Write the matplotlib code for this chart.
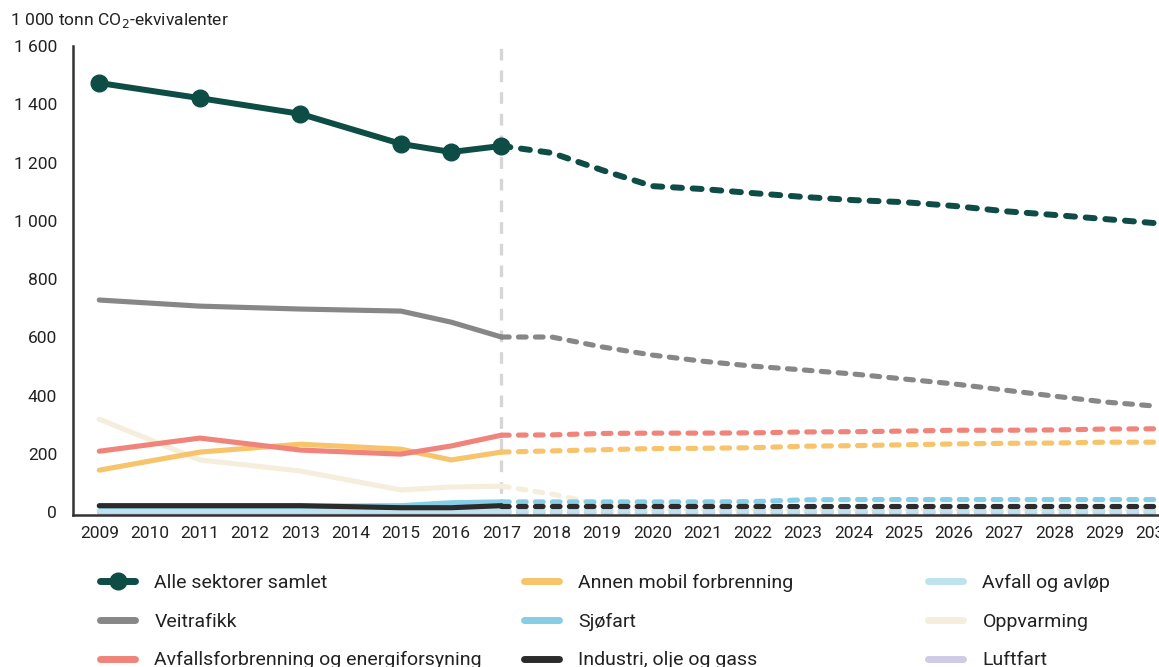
import matplotlib
matplotlib.use("Agg")
import matplotlib.pyplot as plt
from matplotlib.lines import Line2D
from matplotlib.ticker import FuncFormatter

plt.rcParams['font.family'] = ['Roboto', 'DejaVu Sans']

hist_years = [2009, 2011, 2013, 2015, 2016, 2017]
proj_years = list(range(2017, 2031))
tick_years = list(range(2009, 2031))

# historical values (1 000 tonn CO2-ekv.)
alle_hist = [1473, 1421, 1367, 1264, 1236, 1257]
veitrafikk_hist = [728, 707, 697, 690, 652, 601]
avfallsforbr_hist = [209, 254, 213, 199, 227, 264]
annen_mobil_hist = [144, 206, 233, 216, 179, 206]
oppvarming_hist = [319, 179, 141, 76, 86, 89]
sjofart_hist = [20, 20, 20, 22, 32, 35]
industri_hist = [22, 22, 22, 15, 15, 22]
avfall_avlop_hist = [6, 6, 6, 6, 6, 6]
luftfart_hist = [1, 1, 1, 1, 1, 1]

# projections 2017-2030
alle_proj = [1257, 1233, 1174, 1119, 1109, 1095, 1082, 1071, 1064, 1051, 1033, 1020, 1006, 992]
veitrafikk_proj = [601, 601, 567, 539, 518, 501, 488, 474, 457, 440, 419, 398, 378, 364]
avfallsforbr_proj = [264, 265, 270, 271, 271, 272, 275, 276, 278, 281, 281, 282, 285, 286]
annen_mobil_proj = [206, 210, 214, 218, 219, 221, 226, 228, 231, 234, 236, 237, 240, 240]
oppvarming_proj = [89, 62, 25, 12, 10, 10, 10, 10, 10, 10, 10, 10, 10, 10]
sjofart_proj = [35, 35, 35, 35, 35, 36, 42, 43, 43, 43, 43, 43, 43, 43]
industri_proj = [22, 22, 22, 22, 22, 22, 22, 22, 22, 22, 22, 22, 22, 22]
avfall_avlop_proj = [6, 6, 6, 6, 6, 6, 6, 6, 6, 6, 6, 6, 6, 6]
luftfart_proj = [1, 1, 1, 1, 1, 1, 1, 1, 1, 1, 1, 1, 1, 1]

labels = ["Alle sektorer samlet", "Veitrafikk", "Avfallsforbrenning og energiforsyning",
          "Annen mobil forbrenning", "Sjøfart", "Industri, olje og gass",
          "Avfall og avløp", "Oppvarming", "Luftfart"]
colors = ["#0e4d45", "#878787", "#f0847a", "#f7c46b", "#86cde6", "#2b2b2b",
          "#bfe2ef", "#f5eedc", "#cfcae5"]

series = [
    (alle_hist, alle_proj),
    (veitrafikk_hist, veitrafikk_proj),
    (avfallsforbr_hist, avfallsforbr_proj),
    (annen_mobil_hist, annen_mobil_proj),
    (sjofart_hist, sjofart_proj),
    (industri_hist, industri_proj),
    (avfall_avlop_hist, avfall_avlop_proj),
    (oppvarming_hist, oppvarming_proj),
    (luftfart_hist, luftfart_proj),
]
zorders = [10, 8, 7, 6, 4, 5, 3, 2.5, 2]
widths = [4.3, 3.7, 3.7, 3.7, 3.7, 3.7, 3.7, 3.7, 3.7]

fig = plt.figure(figsize=(11.59, 6.67), dpi=100)
ax = fig.add_axes([73 / 1159, 1 - 515 / 667, 1 - 73 / 1159 + 0.01, 469 / 667])

ax.axvline(2017, color="#d6d6d6", lw=2.4, dashes=(3.5, 3), zorder=1)

for (h, p), c, z, lw in zip(series, colors, zorders, widths):
    ax.plot(hist_years, h, color=c, lw=lw, solid_capstyle='round', solid_joinstyle='round', zorder=z)
    ax.plot(proj_years, p, color=c, lw=lw, dashes=(1.5, 1.8), dash_capstyle='round',
            dash_joinstyle='round', zorder=z)
ax.plot(hist_years, alle_hist, 'o', color=colors[0], ms=12, zorder=11)

ax.set_xlim(2008.477, 2030.31)
ax.set_ylim(-10, 1600)
ax.set_yticks([0, 200, 400, 600, 800, 1000, 1200, 1400, 1600])
ax.yaxis.set_major_formatter(FuncFormatter(lambda v, _: f"{int(v):,}".replace(",", " ")))
ax.set_xticks(tick_years)
ax.tick_params(axis='both', length=0, labelsize=12.5, colors="#222222")
ax.tick_params(axis='x', pad=8)
ax.tick_params(axis='y', pad=11.5)
for s in ['top', 'right']:
    ax.spines[s].set_visible(False)
for s in ['left', 'bottom']:
    ax.spines[s].set_color("#333333")
    ax.spines[s].set_linewidth(1.8)

fig.text(10 / 1159, 1 - 20 / 667, "1 000 tonn CO$_2$-ekvivalenter", fontsize=12.6,
         color="#222222", va='center', ha='left')

# legend, three columns
def handle(i):
    if i == 0:
        return Line2D([], [], color=colors[0], lw=5, marker='o', ms=12, solid_capstyle='round')
    return Line2D([], [], color=colors[i], lw=5, solid_capstyle='round')

col_x = [100 / 1159, 524 / 1159, 928 / 1159]
for col in range(3):
    idx = [col * 3 + r for r in range(3)]
    fig.legend([handle(i) for i in idx], [labels[i] for i in idx],
               loc='upper left', bbox_to_anchor=(col_x[col], 1 - 574 / 667),
               frameon=False, fontsize=14, handlelength=1.8, handletextpad=1.0,
               borderpad=0, borderaxespad=0, labelspacing=1.06, labelcolor="#222222")

fig.savefig("out.png", dpi=100)
